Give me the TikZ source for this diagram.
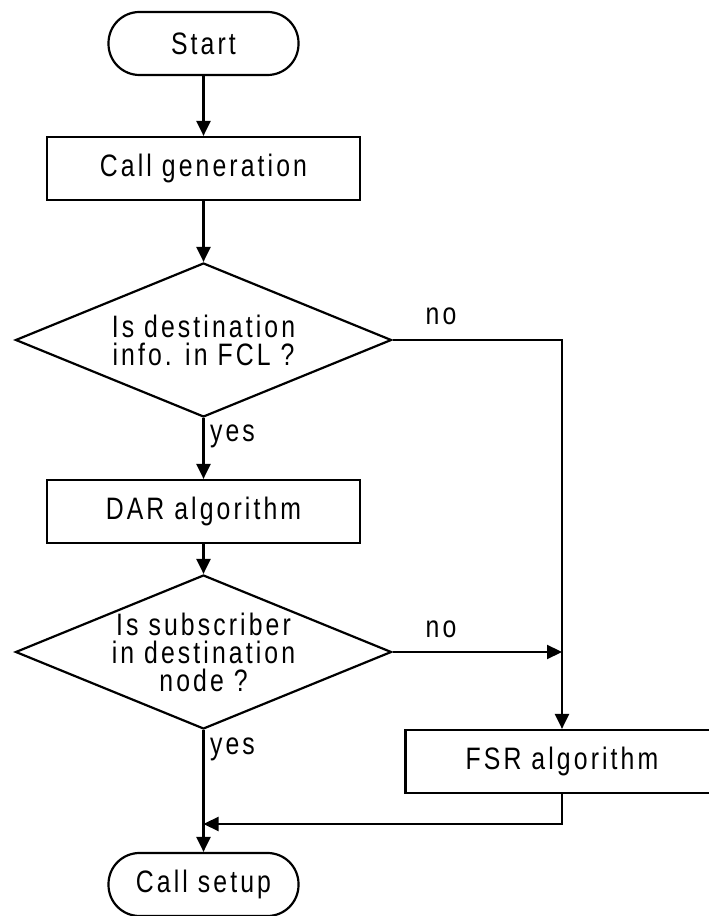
\documentclass[tikz,border=0pt]{standalone}
\usepackage{fontspec}
\setmainfont{Liberation Sans}[FakeStretch=0.8,LetterSpace=10]
\usetikzlibrary{shapes.geometric,arrows.meta}

\begin{document}
\begin{tikzpicture}[x=1pt,y=1pt,line width=2.2pt,
    font=\fontsize{31}{28}\selectfont,
    flow/.style={-{Triangle[length=15pt,width=14pt]}},
    terminal/.style={draw,rounded corners=31pt,minimum width=190pt,minimum height=63pt,inner sep=0pt},
    process/.style={draw,minimum width=313pt,minimum height=63pt,inner sep=0pt},
    decision/.style={draw,diamond,minimum width=376pt,minimum height=154pt,inner sep=0pt},
    tag/.style={inner sep=0pt}]
  \useasboundingbox (0,0) rectangle (709,916);
  % main column
  \node[terminal] (start) at (203.5,872.5) {Start};
  \node[process] (callgen) at (203.5,747.5) {Call generation};
  \node[decision] (dest) at (203.5,576) {};
  \node[align=center,tag] (desttext) at (dest) {Is destination\\info. in FCL ?};
  \node[process] (dar) at (203.5,404.5) {DAR algorithm};
  \node[decision] (subs) at (203.5,264) {};
  \node[align=center,tag] (substext) at (subs) {Is subscriber\\in destination\\node ?};
  \node[terminal] (setup) at (203.5,31.5) {Call setup};
  % side branch
  \node[process] (fsr) at (562,154.5) {FSR algorithm};
  \coordinate (merge) at (203.5,92);
  % answers
  \node[tag,anchor=base west] (yes1) at (209,474) {yes};
  \node[tag,anchor=base west] (yes2) at (209,161) {yes};
  \node[tag,anchor=base] (no1) at (441,591) {no};
  \node[tag,anchor=base] (no2) at (441,278) {no};
  % connectors
  \draw[flow] (start) -- (callgen);
  \draw[flow] (callgen) -- (dest);
  \draw[flow] (dest) -- (dar);
  \draw[flow] (dar) -- (subs);
  \draw[flow] (subs) -- (setup);
  \draw[flow] (dest.east) -| (fsr.north);
  \draw[flow] (subs.east) -- (subs.east -| fsr.north);
  \draw[flow] (fsr.south) |- (merge);
\end{tikzpicture}
\end{document}
